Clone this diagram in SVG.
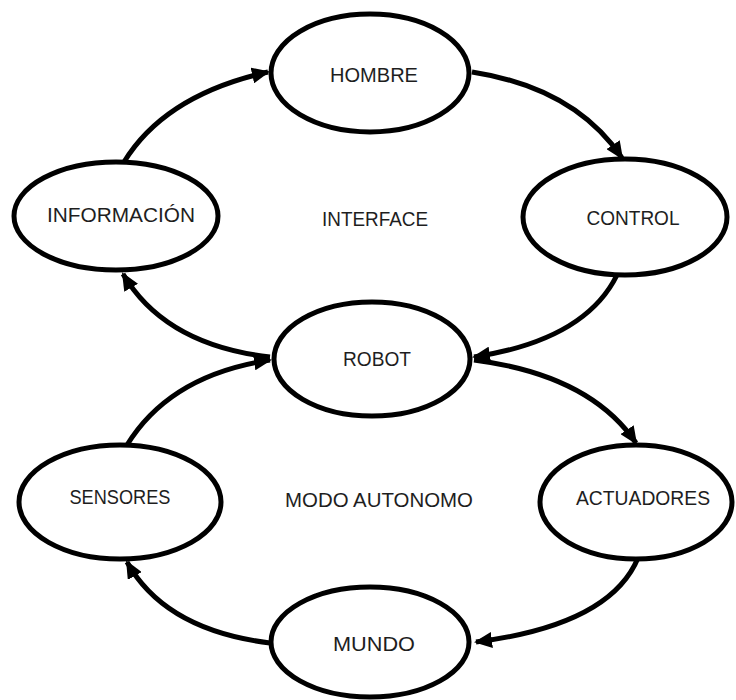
<svg xmlns="http://www.w3.org/2000/svg" width="736" height="700" viewBox="0 0 736 700">
  <style>
    .node ellipse { fill: #ffffff; stroke: #000000; stroke-width: 5; }
    .label { font-family: "Liberation Sans", Arial, sans-serif; font-size: 20px; fill: #1e1e1e; text-anchor: middle; }
    .edge { fill: none; stroke: #000000; stroke-width: 5; marker-end: url(#head); }
  </style>
  <defs>
    <marker id="head" markerUnits="userSpaceOnUse" markerWidth="18" markerHeight="16" refX="16" refY="8" orient="auto">
      <path d="M0,0 L18,8 L0,16 z" fill="#000000"/>
    </marker>
  </defs>

  <rect width="736" height="700" fill="#ffffff"/>

  <!-- connectors -->
  <g id="connectors">
    <path class="edge" d="M124,162 Q165,95 268,72"/>
    <path class="edge" d="M472,72 Q575,88 622,158"/>
    <path class="edge" d="M617,275 Q585,340 474,357"/>
    <path class="edge" d="M270,357 Q165,345 123,274"/>
    <path class="edge" d="M127,445 Q170,375 270,360"/>
    <path class="edge" d="M474,360 Q590,375 636,443"/>
    <path class="edge" d="M638,558 Q610,625 476,642"/>
    <path class="edge" d="M270,643 Q165,630 127,562"/>
  </g>

  <!-- nodes -->
  <g id="hombre" class="node">
    <ellipse cx="370" cy="73" rx="99" ry="59"/>
    <text class="label" x="374" y="82" textLength="88" lengthAdjust="spacingAndGlyphs">HOMBRE</text>
  </g>
  <g id="informacion" class="node">
    <ellipse cx="116" cy="216" rx="102" ry="54"/>
    <text class="label" x="121" y="222" textLength="148" lengthAdjust="spacingAndGlyphs">INFORMACIÓN</text>
  </g>
  <g id="control" class="node">
    <ellipse cx="625" cy="217" rx="102" ry="58"/>
    <text class="label" x="633" y="225" textLength="93" lengthAdjust="spacingAndGlyphs">CONTROL</text>
  </g>
  <g id="robot" class="node">
    <ellipse cx="372" cy="359" rx="98" ry="57"/>
    <text class="label" x="377" y="366" textLength="68" lengthAdjust="spacingAndGlyphs">ROBOT</text>
  </g>
  <g id="sensores" class="node">
    <ellipse cx="120" cy="502" rx="101" ry="57"/>
    <text class="label" x="120" y="504" textLength="101" lengthAdjust="spacingAndGlyphs">SENSORES</text>
  </g>
  <g id="actuadores" class="node">
    <ellipse cx="636" cy="502" rx="96" ry="57"/>
    <text class="label" x="643" y="505" textLength="134" lengthAdjust="spacingAndGlyphs">ACTUADORES</text>
  </g>
  <g id="mundo" class="node">
    <ellipse cx="370" cy="642" rx="99" ry="55"/>
    <text class="label" x="374" y="651" textLength="82" lengthAdjust="spacingAndGlyphs">MUNDO</text>
  </g>

  <!-- region captions -->
  <g id="captions">
    <text class="label" x="375" y="226" textLength="106" lengthAdjust="spacingAndGlyphs">INTERFACE</text>
    <text class="label" x="379" y="507" textLength="188" lengthAdjust="spacingAndGlyphs">MODO AUTONOMO</text>
  </g>
</svg>
